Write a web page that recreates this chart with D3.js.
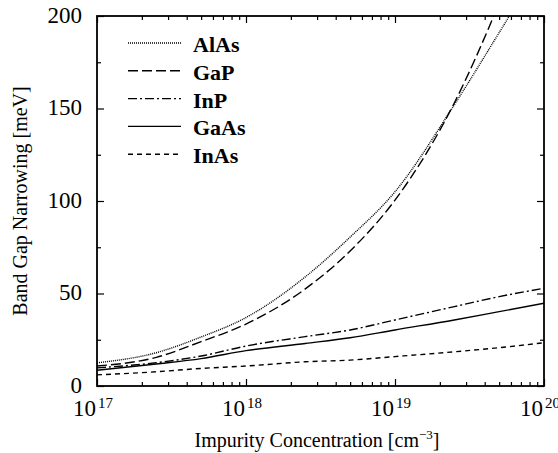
<!DOCTYPE html>
<meta charset="utf-8">
<style>

body {
  margin: 0;
  background: #fff;
}

svg {
  font-family: "Liberation Serif", "Times New Roman", serif;
}

</style>
<body>
<script src="https://d3js.org/d3.v7.min.js"></script>
<script>

var concentration = [1e17, 2.5e17, 5e17, 1e18, 2.5e18, 5e18, 1e19, 2.5e19, 5e19, 1e20];

var alas = [12.5, 18, 26.5, 37, 59, 80.5, 105, 152, 191, 231],
    gap  = [10.8, 15.5, 24, 33.5, 52.5, 73, 100.5, 153, 207, 270],
    inp  = [9.8, 12.6, 16.2, 21.6, 26.7, 30.3, 35.7, 42.9, 48.3, 52.8],
    gaas = [8.5, 11.9, 14.8, 19.1, 23, 26.1, 30.3, 35.7, 40.2, 44.7],
    inas = [6, 7.7, 9.5, 10.8, 13.1, 14, 15.9, 18.5, 20.7, 23.4];

var names = ["AlAs", "GaP", "InP", "GaAs", "InAs"];

var xMajor = [1e17, 1e18, 1e19, 1e20],
    yMajor = [0, 50, 100, 150, 200],
    yMinor = [25, 75, 125, 175];

</script>
<script>

var width = 558, height = 453,
    margin = {top: 16, right: 14, bottom: 67, left: 97};

var dashes = ["1,1", "10,4", "9,3,2,3", null, "5,4"];

var series = [alas, gap, inp, gaas, inas].map(function(v, i) {
  return {name: names[i], dash: dashes[i], values: v.map(function(d, j) { return [concentration[j], d]; })};
});

var x = d3.scaleLog()
    .domain([1e17, 1e20])
    .range([margin.left, width - margin.right]);

var y = d3.scaleLinear()
    .domain([0, 200])
    .range([height - margin.bottom, margin.top]);

var svg = d3.select("body").append("svg")
    .attr("width", width)
    .attr("height", height);

svg.append("clipPath")
    .attr("id", "clip")
  .append("rect")
    .attr("x", x.range()[0])
    .attr("y", y.range()[1])
    .attr("width", x.range()[1] - x.range()[0])
    .attr("height", y.range()[0] - y.range()[1]);

var xMinor = x.ticks().filter(function(d) { return xMajor.indexOf(d) < 0; });

// ticks point inwards on all four sides
function ticks(axis, values, size) {
  return axis.tickValues(values).tickSize(size).tickFormat("");
}

var x0 = x.range()[0], x1 = x.range()[1], y0 = y.range()[0], y1 = y.range()[1];

[[d3.axisTop, x, "translate(0," + y0 + ")", xMajor, xMinor],
 [d3.axisBottom, x, "translate(0," + y1 + ")", xMajor, xMinor],
 [d3.axisRight, y, "translate(" + x0 + ",0)", yMajor, yMinor],
 [d3.axisLeft, y, "translate(" + x1 + ",0)", yMajor, yMinor]].forEach(function(a) {
  svg.append("g").attr("transform", a[2]).call(ticks(a[0](a[1]), a[3], 7));
  svg.append("g").attr("transform", a[2]).call(ticks(a[0](a[1]), a[4], 4));
});

svg.selectAll(".domain").remove();
svg.selectAll(".tick line").attr("stroke", "#000").attr("stroke-width", 1.2);

svg.append("rect")
    .attr("x", x0)
    .attr("y", y1)
    .attr("width", x1 - x0)
    .attr("height", y0 - y1)
    .attr("fill", "none")
    .attr("stroke", "#000")
    .attr("stroke-width", 1.8);

svg.append("g")
    .attr("font-size", 23)
    .attr("text-anchor", "end")
  .selectAll("text")
  .data(yMajor)
  .enter().append("text")
    .attr("x", x0 - 15)
    .attr("y", function(d) { return y(d); })
    .attr("dy", "0.3em")
    .text(function(d) { return d; });

var xl = svg.append("g")
  .selectAll("g")
  .data(xMajor)
  .enter().append("g");

xl.append("text")
    .attr("x", function(d) { return x(d) - 1; })
    .attr("y", y0 + 30)
    .attr("font-size", 23)
    .attr("text-anchor", "end")
    .text("10");

xl.append("text")
    .attr("x", function(d) { return x(d) + 1; })
    .attr("y", y0 + 22)
    .attr("font-size", 15)
    .text(function(d) { return Math.round(Math.log10(d)); });

var xt = svg.append("text")
    .attr("x", 317)
    .attr("y", 447)
    .attr("font-size", 20)
    .attr("text-anchor", "middle");

xt.append("tspan").text("Impurity Concentration [cm");
xt.append("tspan").attr("font-size", 13).attr("dy", -8).text("\u22123");
xt.append("tspan").attr("dy", 8).text("]");

svg.append("text")
    .attr("transform", "translate(27," + ((y0 + y1) / 2) + ")rotate(-90)")
    .attr("font-size", 20)
    .attr("text-anchor", "middle")
    .text("Band Gap Narrowing [meV]");

var line = d3.line()
    .curve(d3.curveMonotoneX)
    .x(function(d) { return x(d[0]); })
    .y(function(d) { return y(d[1]); });

svg.append("g")
    .attr("clip-path", "url(#clip)")
  .selectAll("path")
  .data(series)
  .enter().append("path")
    .attr("fill", "none")
    .attr("stroke", "#000")
    .attr("stroke-width", 1.4)
    .attr("stroke-dasharray", function(d) { return d.dash; })
    .attr("d", function(d) { return line(d.values); });

var legend = svg.append("g")
  .selectAll("g")
  .data(series)
  .enter().append("g")
    .attr("transform", function(d, i) { return "translate(0," + (43 + i * 27.8) + ")"; });

legend.append("line")
    .attr("x1", 128)
    .attr("x2", 181)
    .attr("stroke", "#000")
    .attr("stroke-width", 1.4)
    .attr("stroke-dasharray", function(d) { return d.dash; });

legend.append("text")
    .attr("x", 193)
    .attr("y", 9)
    .attr("font-size", 22)
    .attr("font-weight", "bold")
    .text(function(d) { return d.name; });

</script>
